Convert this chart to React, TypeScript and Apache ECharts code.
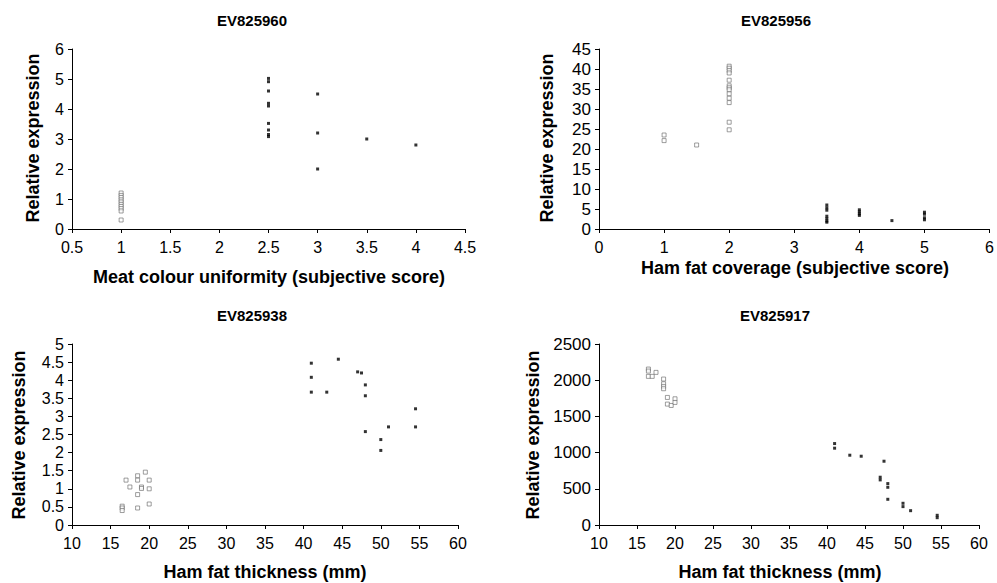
import React, { useEffect, useRef } from "react";
import * as echarts from "echarts";

// Panel 1: EV825960 vs meat colour uniformity
const p1OpenX = [1, 1, 1, 1, 1, 1, 1, 1, 1, 1];
const p1OpenY = [1.2, 1.12, 1.05, 0.97, 0.9, 0.82, 0.75, 0.68, 0.6, 0.3];
const p1FillX = [2.5, 2.5, 2.5, 2.5, 2.5, 2.5, 2.5, 2.5, 2.5, 3, 3, 3, 3.5, 4];
const p1FillY = [5.02, 4.91, 4.6, 4.19, 4.1, 3.52, 3.3, 3.15, 3.08, 4.5, 3.2, 2.0, 3.0, 2.8];

// Panel 2: EV825956 vs ham fat coverage
const p2OpenX = [1, 1, 1.5, 2, 2, 2, 2, 2, 2, 2, 2, 2, 2, 2, 2, 2];
const p2OpenY = [23.5, 22.1, 21.0, 40.7, 40.2, 39.6, 39.0, 37.2, 35.8, 35.3, 34.8, 33.8, 32.7, 31.6, 26.7, 24.8];
const p2FillX = [3.5, 3.5, 3.5, 3.5, 3.5, 3.5, 3.5, 4, 4, 4, 4, 4.5, 5, 5, 5, 5];
const p2FillY = [6.0, 5.3, 4.7, 3.2, 2.6, 2.0, 1.7, 4.8, 4.3, 3.8, 3.4, 2.1, 4.2, 3.7, 2.8, 2.3];

// Panel 3: EV825938 vs ham fat thickness
const p3OpenX = [16.5, 16.5, 16.5, 17, 17.5, 18.5, 18.5, 18.5, 18.5, 19, 19, 19.5, 20, 20, 20];
const p3OpenY = [0.52, 0.47, 0.4, 1.24, 1.05, 1.36, 1.24, 0.84, 0.47, 1.05, 1.01, 1.46, 1.24, 1.0, 0.58];
const p3FillX = [41, 41, 41, 43, 44.5, 47, 47.5, 48, 48, 48, 50, 50, 51, 54.5, 54.5];
const p3FillY = [4.47, 4.08, 3.67, 3.67, 4.58, 4.23, 4.2, 3.87, 3.57, 2.58, 2.36, 2.06, 2.71, 3.21, 2.71];

// Panel 4: EV825917 vs ham fat thickness
const p4OpenX = [16.5, 16.5, 16.5, 17, 17.5, 18.5, 18.5, 18.5, 18.5, 19, 19, 19.5, 20, 20];
const p4OpenY = [2154, 2126, 2053, 2053, 2108, 2016, 1951, 1914, 1882, 1762, 1670, 1651, 1743, 1693];
const p4FillX = [41, 41, 43, 44.5, 47.5, 47, 47, 48, 48, 48, 50, 50, 51, 54.5, 54.5];
const p4FillY = [1125, 1061, 964, 950, 881, 660, 623, 572, 521, 355, 300, 254, 198, 134, 101];

const titles = ["EV825960", "EV825956", "EV825938", "EV825917"];
const xTitles = [
  "Meat colour uniformity (subjective score)",
  "Ham fat coverage (subjective score)",
  "Ham fat thickness (mm)",
  "Ham fat thickness (mm)",
];
const yTitle = "Relative expression";

const FONT = "'Liberation Sans', Arial, sans-serif";

const zip = (xs: number[], ys: number[]) => xs.map((x, i) => [x, ys[i]]);

export default function App() {
  const ref = useRef<HTMLDivElement>(null);
  useEffect(() => {
    if (!ref.current) return;
    const chart = echarts.init(ref.current, null, { renderer: "svg" });

    const grids = [
      { left: 72, top: 49, width: 393, height: 180 },
      { left: 599, top: 49, width: 393, height: 180 },
      { left: 72, top: 344, width: 386, height: 181 },
      { left: 599, top: 344, width: 380, height: 181 },
    ];
    const xr = [
      { min: 0.5, max: 4.5, interval: 0.5 },
      { min: 0, max: 6, interval: 1 },
      { min: 10, max: 60, interval: 5 },
      { min: 10, max: 60, interval: 5 },
    ];
    const yr = [
      { min: 0, max: 6, interval: 1 },
      { min: 0, max: 45, interval: 5 },
      { min: 0, max: 5, interval: 0.5 },
      { min: 0, max: 2500, interval: 500 },
    ];
    const axisCommon = {
      axisLine: { show: true, onZero: false, lineStyle: { color: "#000", width: 1 } },
      axisTick: { show: true, inside: false, length: 4, lineStyle: { color: "#000" } },
      splitLine: { show: false },
    };
    const fmt = (v: number) => String(v);
    const xAxis = xr.map((r, i) => ({
      type: "value",
      gridIndex: i,
      ...r,
      ...axisCommon,
      axisLabel: { color: "#000", fontSize: 16, fontFamily: FONT, margin: 10, formatter: fmt },
    }));
    const yAxis = yr.map((r, i) => ({
      type: "value",
      gridIndex: i,
      ...r,
      ...axisCommon,
      axisLabel: {
        color: "#000",
        fontSize: i === 0 || i === 2 ? 16 : 17,
        fontFamily: FONT,
        margin: 8,
        formatter: fmt,
      },
    }));

    const openStyle = { color: "#fff", borderColor: "#666", borderWidth: 0.8 };
    const fillStyle = { color: "#000" };
    const sets = [
      [p1OpenX, p1OpenY, p1FillX, p1FillY],
      [p2OpenX, p2OpenY, p2FillX, p2FillY],
      [p3OpenX, p3OpenY, p3FillX, p3FillY],
      [p4OpenX, p4OpenY, p4FillX, p4FillY],
    ];
    const series: any[] = [];
    sets.forEach((s, i) => {
      series.push({
        type: "scatter",
        xAxisIndex: i,
        yAxisIndex: i,
        symbol: "rect",
        symbolSize: 4,
        itemStyle: openStyle,
        data: zip(s[0], s[1]),
      });
      series.push({
        type: "scatter",
        xAxisIndex: i,
        yAxisIndex: i,
        symbol: "rect",
        symbolSize: 3,
        itemStyle: fillStyle,
        data: zip(s[2], s[3]),
      });
    });

    const titlePos = [
      [252, 20],
      [776, 20],
      [252, 315],
      [775, 315],
    ];
    const xTitlePos = [
      [269, 277],
      [795, 268],
      [265, 572],
      [780, 572],
    ];
    const yTitlePos = [
      [33, 138],
      [547, 138],
      [19, 435],
      [533, 435],
    ];
    const graphic: any[] = [];
    titles.forEach((t, i) => {
      graphic.push({
        type: "text",
        x: titlePos[i][0],
        y: titlePos[i][1],
        style: { text: t, fill: "#000", font: `bold 15px ${FONT}`, align: "center", verticalAlign: "middle" },
      });
      graphic.push({
        type: "text",
        x: xTitlePos[i][0],
        y: xTitlePos[i][1],
        style: { text: xTitles[i], fill: "#000", font: `bold 18px ${FONT}`, align: "center", verticalAlign: "middle" },
      });
      graphic.push({
        type: "text",
        x: yTitlePos[i][0],
        y: yTitlePos[i][1],
        rotation: Math.PI / 2,
        style: { text: yTitle, fill: "#000", font: `bold 18px ${FONT}`, align: "center", verticalAlign: "middle" },
      });
    });

    chart.setOption({
      animation: false,
      backgroundColor: "#fff",
      grid: grids,
      xAxis,
      yAxis,
      series,
      graphic,
    });
    return () => chart.dispose();
  }, []);
  return (
    <div
      ref={ref}
      style={{ position: "fixed", left: 0, top: 0, width: 997, height: 583, background: "#fff" }}
    />
  );
}
